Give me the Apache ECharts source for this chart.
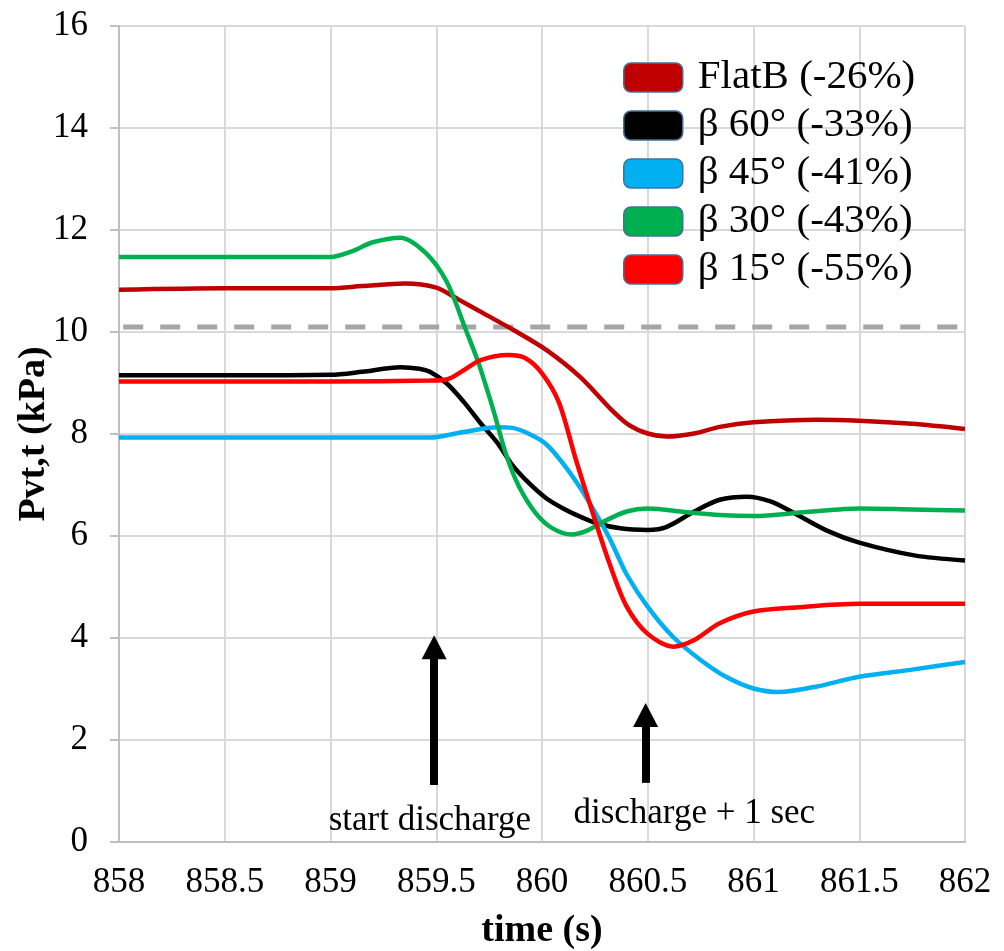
<!DOCTYPE html>
<html><head><meta charset="utf-8">
<script src="https://cdn.jsdelivr.net/npm/echarts@6/dist/echarts.min.js"></script>
<style>html,body{margin:0;padding:0;background:#fff}#c{width:1004px;height:951px}</style>
</head><body><div id="c"></div>
<script>
// ---------- data ----------
const seriesNames = ['FlatB (-26%)', 'β 60° (-33%)', 'β 45° (-41%)', 'β 30° (-43%)', 'β 15° (-55%)'];
const seriesColors = ['#c00000', '#000000', '#00b0f0', '#00b050', '#ff0000'];

const tFlatB = [858, 858.5, 859, 859.15, 859.35, 859.5, 859.6, 859.73, 859.865, 860.02, 860.18, 860.33, 860.41, 860.5, 860.59, 860.72, 860.84, 861.0, 861.3, 861.5, 861.75, 862];
const vFlatB = [10.83, 10.86, 10.86, 10.9, 10.95, 10.87, 10.65, 10.35, 10.04, 9.65, 9.12, 8.47, 8.18, 8.01, 7.95, 8.01, 8.14, 8.23, 8.28, 8.26, 8.2, 8.1];

const tB60 = [858, 858.5, 859, 859.15, 859.33, 859.42, 859.47, 859.55, 859.63, 859.71, 859.79, 859.86, 859.94, 860.02, 860.1, 860.18, 860.26, 860.37, 860.5, 860.59, 860.72, 860.84, 860.97, 861.08, 861.17, 861.35, 861.5, 861.76, 862];
const vB60 = [9.15, 9.15, 9.16, 9.22, 9.31, 9.28, 9.22, 8.99, 8.63, 8.21, 7.82, 7.39, 7.03, 6.74, 6.54, 6.38, 6.25, 6.15, 6.12, 6.18, 6.48, 6.71, 6.77, 6.68, 6.5, 6.1, 5.87, 5.62, 5.52];

const tB45 = [858, 858.5, 859, 859.47, 859.63, 859.79, 859.86, 859.94, 860.02, 860.1, 860.18, 860.26, 860.32, 860.4, 860.5, 860.62, 860.75, 860.87, 861.0, 861.12, 861.3, 861.5, 861.75, 862];
const vB45 = [7.93, 7.93, 7.93, 7.93, 8.04, 8.13, 8.12, 8.0, 7.8, 7.42, 6.95, 6.4, 5.95, 5.25, 4.61, 4.02, 3.57, 3.24, 3.01, 2.94, 3.05, 3.24, 3.38, 3.53];

const tB30 = [858, 858.5, 859, 859.1, 859.2, 859.33, 859.45, 859.55, 859.64, 859.7, 859.77, 859.83, 859.89, 859.97, 860.05, 860.14, 860.21, 860.29, 860.4, 860.5, 860.68, 860.84, 861.0, 861.25, 861.5, 861.75, 862];
const vB30 = [11.47, 11.47, 11.47, 11.58, 11.76, 11.85, 11.55, 10.98, 10.04, 9.39, 8.47, 7.6, 6.98, 6.45, 6.15, 6.03, 6.1, 6.28, 6.48, 6.54, 6.47, 6.41, 6.39, 6.47, 6.54, 6.52, 6.5];

const tB15 = [858, 858.5, 859, 859.47, 859.55, 859.63, 859.71, 859.84, 859.92, 860.0, 860.08, 860.16, 860.24, 860.32, 860.4, 860.5, 860.62, 860.72, 860.84, 861.0, 861.2, 861.5, 862];
const vB15 = [9.03, 9.03, 9.03, 9.05, 9.07, 9.25, 9.45, 9.55, 9.49, 9.19, 8.62, 7.5, 6.45, 5.45, 4.62, 4.08, 3.83, 3.96, 4.29, 4.52, 4.6, 4.67, 4.67];

const refLevel = 10.1;
const refStart = 858.02, refEnd = 862;

const arrowX = [859.49, 860.49];
const arrowFrom = [1.12, 1.16];
const arrowTo = [3.82, 2.49];

const annotX = [859.47, 860.72];
const annotY = [0.42, 0.55];
const annotText = ['start discharge', 'discharge + 1 sec'];

const xMin = 858, xMax = 862, xStep = 0.5;
const yMin = 0, yMax = 16, yStep = 2;

// ---------- chart ----------
const FONT = 'Liberation Serif, Times New Roman, serif';
const pair = (ts, vs) => ts.map((t, i) => [t, vs[i]]);
const seriesData = [pair(tFlatB, vFlatB), pair(tB60, vB60), pair(tB45, vB45), pair(tB30, vB30), pair(tB15, vB15)];

const lineSeries = seriesNames.map((n, i) => ({
  name: n, type: 'line', data: seriesData[i], smooth: 0.3, showSymbol: false, symbol: 'none',
  color: seriesColors[i],
  itemStyle: { color: seriesColors[i] },
  lineStyle: { color: seriesColors[i], width: 4.5 },
  z: 3 + i
}));

const refSeries = {
  name: 'ref', type: 'line', data: [[refStart, refLevel], [refEnd, refLevel]], showSymbol: false, symbol: 'none',
  lineStyle: { color: '#a6a6a6', width: 5, type: [20, 17] }, z: 2, silent: true,
  markLine: {
    silent: true, symbol: ['none', 'triangle'], symbolSize: [25, 24],
    label: { show: false },
    lineStyle: { color: '#000', width: 8, type: 'solid' },
    emphasis: { disabled: true },
    data: arrowX.map((x, i) => [{ coord: [x, arrowFrom[i]] }, { coord: [x, arrowTo[i]] }])
  }
};

const annotSeries = {
  name: 'annot', type: 'scatter', symbolSize: 0, itemStyle: { color: '#000' }, silent: true, z: 20,
  data: annotX.map((x, i) => ({ value: [x, annotY[i]], name: annotText[i] })),
  label: { show: true, position: 'inside', formatter: '{b}',
    color: '#000', fontFamily: FONT, fontSize: 35, textBorderWidth: 0, opacity: 1 },
  emphasis: { disabled: true }
};

const chart = echarts.init(document.getElementById('c'));
chart.setOption({
  animation: false,
  backgroundColor: '#fff',
  grid: { left: 119, right: 39, top: 26, bottom: 109, outerBoundsMode: 'none', containLabel: false },
  legend: {
    data: seriesNames, orient: 'vertical', left: 618, top: 52, padding: 5,
    icon: 'roundRect', itemWidth: 59, itemHeight: 29, itemGap: 7,
    itemStyle: { borderColor: '#41719c', borderWidth: 1.5 },
    textStyle: { fontFamily: FONT, fontSize: 41, color: '#000', padding: [0, 0, 0, 10] },
    selectedMode: false
  },
  xAxis: {
    type: 'value', min: xMin, max: xMax, interval: xStep,
    name: 'time (s)', nameLocation: 'middle', nameGap: 70,
    nameTextStyle: { fontFamily: FONT, fontSize: 38, fontWeight: 'bold', color: '#000' },
    axisLine: { show: true, lineStyle: { color: '#bfbfbf', width: 2 } },
    axisTick: { show: false },
    axisLabel: { fontFamily: FONT, fontSize: 35, color: '#000', margin: 23 },
    splitLine: { show: true, lineStyle: { color: '#d9d9d9', width: 2 } }
  },
  yAxis: {
    type: 'value', min: yMin, max: yMax, interval: yStep,
    name: 'Pvt,t (kPa)', nameLocation: 'middle', nameGap: 66, nameRotate: 90, nameMoveOverlap: false,
    nameTextStyle: { fontFamily: FONT, fontSize: 38, fontWeight: 'bold', color: '#000' },
    axisLine: { show: true, lineStyle: { color: '#bfbfbf', width: 2 } },
    axisTick: { show: true, length: 9, lineStyle: { color: '#bfbfbf', width: 2 } },
    axisLabel: { fontFamily: FONT, fontSize: 35, color: '#000', margin: 31 },
    splitLine: { show: true, lineStyle: { color: '#d9d9d9', width: 2 } }
  },
  series: [refSeries, ...lineSeries, annotSeries]
});
</script>
</body></html>
